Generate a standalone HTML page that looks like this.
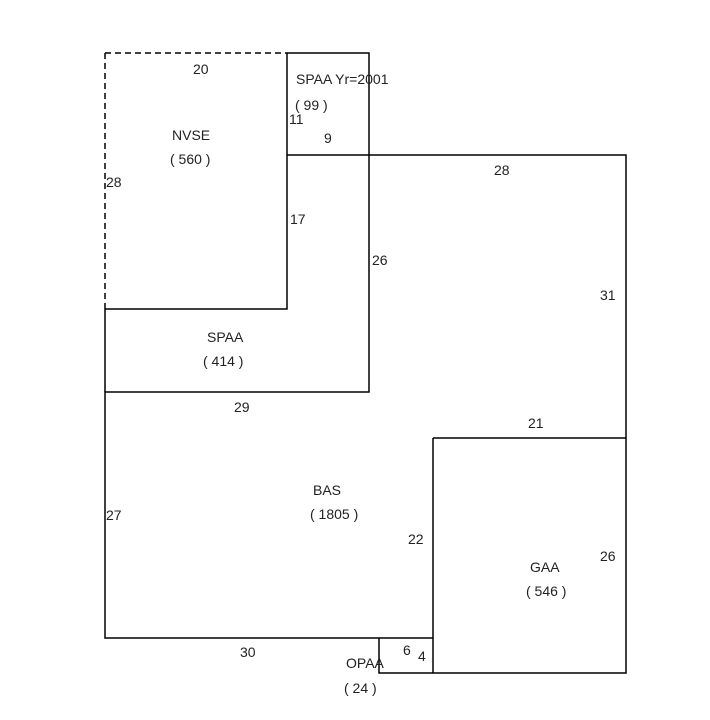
<!DOCTYPE html>
<html><head><meta charset="utf-8"><style>
html,body{margin:0;padding:0;background:#fff;}
svg{display:block;}
text{font-family:"Liberation Sans",sans-serif;font-size:14px;fill:#222;}
</style></head><body>
<svg width="710" height="720" viewBox="0 0 710 720" xmlns="http://www.w3.org/2000/svg">
<g stroke="#000" stroke-width="1.5" fill="none">
<path d="M105 53 H287 M105 53 V305" stroke-dasharray="6 4"/>
<path d="M287 53 H369 V392 H105 V638 H433"/>
<path d="M287 53 V309 H105"/>
<path d="M287 155 H626 V673 H379 V638"/>
<path d="M433 438 H626 M433 438 V673"/>
<path d="M105 305 V392"/>
</g>
<text x="193" y="74">20</text>
<text x="296" y="84">SPAA Yr=2001</text>
<text x="295" y="110">( 99 )</text>
<text x="289" y="124">11</text>
<text x="324" y="143">9</text>
<text x="172" y="140">NVSE</text>
<text x="170" y="164">( 560 )</text>
<text x="106" y="187">28</text>
<text x="494" y="175">28</text>
<text x="290" y="224">17</text>
<text x="372" y="265">26</text>
<text x="600" y="300">31</text>
<text x="207" y="342">SPAA</text>
<text x="203" y="366">( 414 )</text>
<text x="234" y="412">29</text>
<text x="528" y="428">21</text>
<text x="313" y="495">BAS</text>
<text x="310" y="519">( 1805 )</text>
<text x="106" y="520">27</text>
<text x="408" y="544">22</text>
<text x="600" y="561">26</text>
<text x="530" y="572">GAA</text>
<text x="526" y="596">( 546 )</text>
<text x="240" y="657">30</text>
<text x="403" y="655">6</text>
<text x="418" y="661">4</text>
<text x="346" y="668">OPAA</text>
<text x="344" y="693">( 24 )</text>
</svg>
</body></html>
